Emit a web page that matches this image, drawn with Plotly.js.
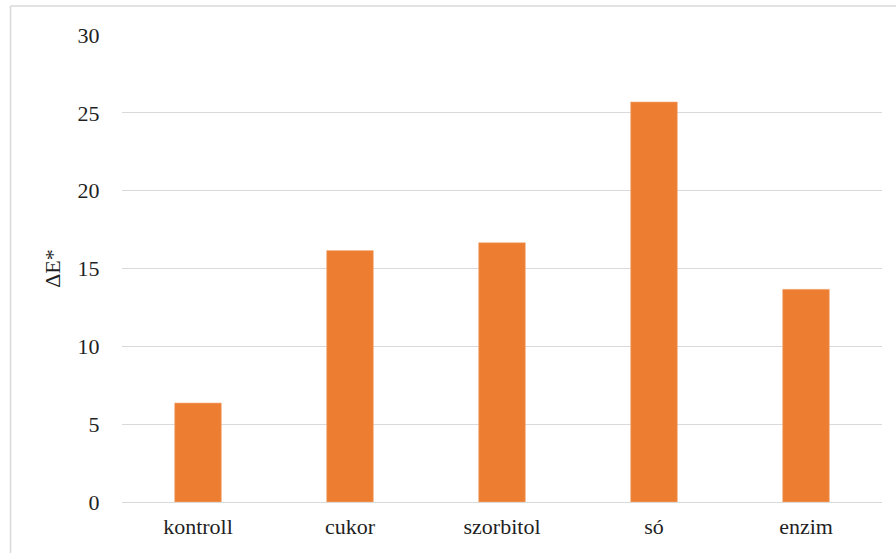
<!DOCTYPE html>
<html>
<head>
<meta charset="utf-8">
<script src="https://cdn.plot.ly/plotly-3.0.1.min.js"></script>
<style>html,body{margin:0;padding:0;background:#fff;}#chart{width:896px;height:553px;}</style>
</head>
<body>
<div id="chart"></div>
<script>
const categories = ["kontroll", "cukor", "szorbitol", "só", "enzim"];
const deltaE = [6.36, 16.15, 16.66, 25.7, 13.66];
const yTicks = [0, 5, 10, 15, 20, 25, 30];

const font = {family: "'Liberation Serif', 'Times New Roman', serif", size: 22, color: "#1f1f1f"};

Plotly.newPlot("chart", [{
  type: "bar",
  x: categories,
  y: deltaE,
  marker: {color: "#ED7D31", line: {color: "#F4B183", width: 0.6}},
  hoverinfo: "x+y"
}], {
  width: 896, height: 553,
  margin: {l: 122, r: 14, t: 35, b: 51},
  paper_bgcolor: "#fff", plot_bgcolor: "#fff",
  font: font,
  bargap: 0.693,
  showlegend: false,
  xaxis: {
    type: "category",
    showgrid: false, zeroline: false, showline: false,
    ticks: "outside", ticklen: 5, tickcolor: "rgba(0,0,0,0)",
    tickfont: font
  },
  yaxis: {
    range: [0, 30], tickvals: yTicks, ticktext: yTicks.map(String),
    showgrid: true, gridcolor: "#d9d9d9", gridwidth: 1,
    zeroline: true, zerolinecolor: "#d9d9d9", zerolinewidth: 1,
    showline: false,
    ticks: "outside", ticklen: 17, tickcolor: "rgba(0,0,0,0)",
    tickfont: font,
    title: {text: "ΔE*", font: font, standoff: 10}
  },
  shapes: [
    {type: "line", xref: "paper", yref: "paper", x0: -0.1467, x1: 1.05, y0: 1.062, y1: 1.062, line: {color: "#d9d9d9", width: 1.5}},
    {type: "line", xref: "paper", yref: "paper", x0: -0.1467, x1: -0.1467, y0: 1.062, y1: -0.2, line: {color: "#d9d9d9", width: 1.5}}
  ]
}, {displayModeBar: false, staticPlot: true});
</script>
</body>
</html>
